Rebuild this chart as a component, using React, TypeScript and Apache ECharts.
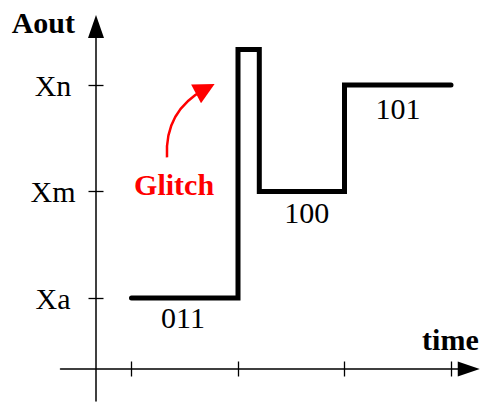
import React, { useEffect, useRef } from "react";
import * as echarts from "echarts";

// Time axis ticks (no labels)
const timeTicks = [1, 4, 7, 10];
// Output levels (y ticks) and their names
const levelValues = [2, 5, 8];
const levelNames = ["Xa", "Xm", "Xn"];
// Step signal: time at which each level starts, and the level
const stepTimes = [1, 4, 4.6, 7, 10];
const stepLevels = [2, 9, 5, 8, 8];
// Code labels under each settled segment
const codeLabels = ["011", "100", "101"];
const codeLabelX = [2.45, 5.94, 8.51];
const codeLabelY = [1.45, 4.41, 7.33];
// Glitch annotation
const glitchText = "Glitch";
const glitchTextPos = [2.2, 5.2];
const glitchArrowFrom = [2.0, 5.96];
const glitchArrowTo = [3.08, 7.89];

const FONT = "'Liberation Serif', 'Times New Roman', serif";

export default function App() {
  const ref = useRef<HTMLDivElement>(null);

  useEffect(() => {
    if (!ref.current) return;
    const chart = echarts.init(ref.current, null, { renderer: "svg" });

    const xBase = {
      type: "value",
      min: -1,
      max: 10.5,
      position: "bottom",
      splitLine: { show: false },
      axisLabel: { show: false },
    };
    const yBase = {
      type: "value",
      min: -0.9,
      max: 9.65,
      position: "left",
      splitLine: { show: false },
    };

    const labelBase = {
      fontFamily: FONT,
      fontSize: 30,
      color: "#000",
      textBorderWidth: 0,
      textBorderColor: "transparent",
      textShadowBlur: 0,
      opacity: 1,
    };

    const option: any = {
      animation: false,
      backgroundColor: "#ffffff",
      grid: {
        left: 60.5,
        right: 11.25,
        top: 26.43,
        bottom: 1.05,
        containLabel: false,
        outerBoundsMode: "none",
      },
      xAxis: [
        {
          ...xBase,
          name: "time",
          nameLocation: "end",
          nameGap: 10,
          nameTextStyle: {
            fontFamily: FONT,
            fontWeight: "bold",
            fontSize: 30,
            color: "#000",
            align: "right",
            verticalAlign: "bottom",
            padding: [0, 0, 15, 0],
          },
          axisLine: {
            show: true,
            onZero: true,
            onZeroAxisIndex: 0,
            symbol: ["none", "triangle"],
            symbolSize: [15, 22],
            lineStyle: { color: "#000", width: 1.5 },
          },
          axisTick: {
            show: true,
            inside: false,
            length: 7.5,
            customValues: timeTicks,
            lineStyle: { color: "#000", width: 1.3 },
          },
        },
        {
          ...xBase,
          axisLine: { show: false, onZero: true, onZeroAxisIndex: 0 },
          axisTick: {
            show: true,
            inside: true,
            length: 7.5,
            customValues: timeTicks,
            lineStyle: { color: "#000", width: 1.3 },
          },
        },
      ],
      yAxis: [
        {
          ...yBase,
          name: "Aout",
          nameLocation: "end",
          nameGap: 4,
          nameTextStyle: {
            fontFamily: FONT,
            fontWeight: "bold",
            fontSize: 30,
            color: "#000",
            align: "right",
            verticalAlign: "middle",
            padding: [0, 21, 0, 0],
          },
          axisLine: {
            show: true,
            onZero: true,
            onZeroAxisIndex: 0,
            symbol: ["none", "triangle"],
            symbolSize: [16, 23],
            lineStyle: { color: "#000", width: 1.5 },
          },
          axisTick: {
            show: true,
            inside: false,
            length: 7.5,
            customValues: levelValues,
            lineStyle: { color: "#000", width: 1.3 },
          },
          axisLabel: {
            show: true,
            customValues: levelValues,
            formatter: (v: number) => levelNames[levelValues.indexOf(v)] ?? "",
            fontFamily: FONT,
            fontSize: 30,
            color: "#000",
            align: "center",
            margin: 7.5,
          },
        },
        {
          ...yBase,
          axisLine: { show: false, onZero: true, onZeroAxisIndex: 0 },
          axisTick: {
            show: true,
            inside: true,
            length: 7.5,
            customValues: levelValues,
            lineStyle: { color: "#000", width: 1.3 },
          },
          axisLabel: { show: false },
        },
      ],
      series: [
        {
          type: "line",
          name: "Aout",
          xAxisIndex: 0,
          yAxisIndex: 0,
          step: "end",
          symbol: "none",
          data: stepTimes.map((t, i) => [t, stepLevels[i]]),
          lineStyle: { color: "#000", width: 5, cap: "round", join: "miter" },
          silent: true,
          clip: false,
        },
        {
          type: "lines",
          coordinateSystem: "cartesian2d",
          xAxisIndex: 0,
          yAxisIndex: 0,
          symbol: ["none", "triangle"],
          symbolSize: [1, 21],
          data: [{ coords: [glitchArrowFrom, glitchArrowTo] }],
          lineStyle: { color: "#ff0000", width: 2.5, curveness: 0.32, opacity: 1 },
          silent: true,
        },
        {
          type: "scatter",
          xAxisIndex: 0,
          yAxisIndex: 0,
          symbolSize: 1,
          itemStyle: { color: "transparent" },
          silent: true,
          label: {
            ...labelBase,
            show: true,
            position: [0.5, 0.5],
            align: "center",
            verticalAlign: "middle",
            formatter: (p: any) => p.name,
          },
          data: [
            ...codeLabels.map((c, i) => ({ name: c, value: [codeLabelX[i], codeLabelY[i]] })),
            {
              name: glitchText,
              value: glitchTextPos,
              label: { color: "#ff0000", fontWeight: "bold" },
            },
          ],
        },
      ],
    };

    chart.setOption(option);
    return () => chart.dispose();
  }, []);

  return (
    <div
      ref={ref}
      style={{ position: "fixed", left: 0, top: 0, width: 480, height: 402, background: "#fff" }}
    />
  );
}
